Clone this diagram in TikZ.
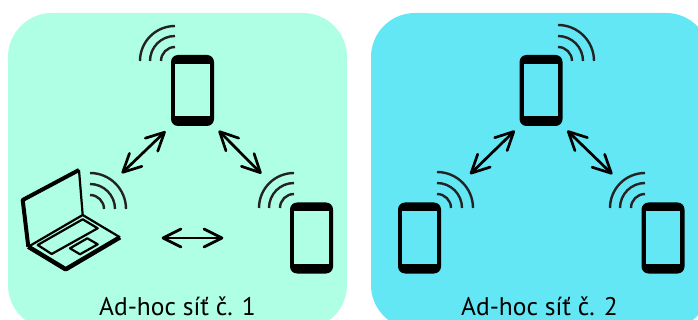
\documentclass[tikz,border=0pt]{standalone}
\usepackage{fontspec}
\setmainfont{PT Sans}
\usetikzlibrary{arrows.meta}
\definecolor{mint}{RGB}{175,255,229}
\definecolor{aqua}{RGB}{100,231,245}
\definecolor{wavegray}{RGB}{35,35,35}

\pgfdeclarearrow{
  name = OpenVee,
  setup code = {
    \pgfarrowssettipend{0pt}
    \pgfarrowssetbackend{-18pt}
    \pgfarrowssetlineend{-1pt}
    \pgfarrowssetvisualbackend{-1pt}
    \pgfarrowshullpoint{0pt}{0pt}
    \pgfarrowshullpoint{-18pt}{9pt}
    \pgfarrowshullpoint{-18pt}{-9pt}
  },
  drawing code = {
    \pgfsetdash{}{0pt}
    \pgfsetroundjoin
    \pgfsetroundcap
    \pgfpathmoveto{\pgfqpoint{-18pt}{9pt}}
    \pgfpathlineto{\pgfqpoint{0pt}{0pt}}
    \pgfpathlineto{\pgfqpoint{-18pt}{-9pt}}
    \pgfusepathqstroke
  }
}

\tikzset{
  panel/.style = {shape=rectangle, rounded corners=44pt, inner sep=0pt, outer sep=0pt},
  phone/.style = {shape=rectangle, rounded corners=7pt, fill=black, inner sep=0pt, outer sep=0pt,
    minimum width=43pt, minimum height=71pt},
  phonescreen/.style = {shape=rectangle, inner sep=0pt, outer sep=0pt,
    minimum width=34.5pt, minimum height=52pt},
  netlabel/.style = {anchor=base, inner sep=0pt, text depth=0pt, font=\fontsize{25.5}{30}\selectfont},
  link/.style = {line width=2.7pt, {OpenVee}-{OpenVee}},
  wavesleft/.pic = {
    \foreach \r in {14,25,35}
      \draw[wavegray, line width=2.4pt] (-\r,0) arc[start angle=180, end angle=90, radius=\r pt];
  },
  wavesright/.pic = {
    \foreach \r in {14,25,36}
      \draw[wavegray, line width=2.4pt] (\r,0) arc[start angle=0, end angle=90, radius=\r pt];
  }
}

\begin{document}
\begin{tikzpicture}[x=1pt, y=-1pt]
  \useasboundingbox (0,0) rectangle (698,320);
  \clip (0,0) rectangle (698,320);

  % the two networks
  \node[panel, fill=mint, minimum width=339pt, minimum height=316pt] (netone) at (177.5,171) {};
  \node[panel, fill=aqua, minimum width=339pt, minimum height=316pt] (nettwo) at (540.5,171) {};

  % phones
  \foreach \name/\x/\y in {topone/192.5/90.5, rightone/311.5/238}{
    \node[phone] (\name) at (\x,\y) {};
    \node[phonescreen, fill=mint] (\name screen) at (\x,\y-0.5) {};
  }
  \foreach \name/\x/\y in {lefttwo/419.5/238, toptwo/541/90.5, righttwo/663/238}{
    \node[phone] (\name) at (\x,\y) {};
    \node[phonescreen, fill=aqua] (\name screen) at (\x,\y-0.5) {};
  }

  % laptop
  \node[inner sep=0pt, outer sep=0pt, minimum width=99pt, minimum height=102pt] (laptop) at (71.5,220) {};
  \coordinate (laptopwave) at (122,173);
  \draw[line width=4pt, line join=round] (28.3,246.7) -- (22.7,200) -- (79,170);
  \draw[line width=2.2pt] (79,170) -- (82.7,215);
  \draw[line width=2.2pt, line join=round] (28.3,246.7) -- (82.7,215) -- (120,237.3);
  \draw[line width=4.5pt, line join=round] (28.3,246.7) -- (65.7,269.3) -- (120,237.3);
  \draw[line width=2.2pt, line join=round] (37.7,245) -- (51.7,254) -- (97.7,228.3) -- (82.7,219.3) -- cycle;
  \draw[line width=2.2pt, line join=round] (70,248.3) -- (80,254.3) -- (97.7,244.3) -- (87.3,238.3) -- cycle;

  % signal
  \pic at (175,61) {wavesleft};
  \pic at (294,208) {wavesleft};
  \pic at (645,208) {wavesleft};
  \pic at (90,209) {wavesright};
  \pic at (558,61) {wavesright};
  \pic at (437,208) {wavesright};

  % links
  \draw[link, shorten <=9pt, shorten >=1pt] (topone.south west) -- (laptopwave);
  \draw[link, shorten <=8pt, shorten >=42pt] (topone.south east) -- (rightone.north west);
  \draw[link, shorten <=42pt, shorten >=68pt] (laptop.east |- rightone.west) -- (rightone.west);
  \draw[link, shorten <=8pt, shorten >=42pt] (toptwo.south west) -- (lefttwo.north east);
  \draw[link, shorten <=8pt, shorten >=42pt] (toptwo.south east) -- (righttwo.north west);

  % labels
  \node[netlabel] (labelone) at (177.5,315) {Ad-hoc síť č. 1};
  \node[netlabel] (labeltwo) at (539.5,315) {Ad-hoc síť č. 2};
\end{tikzpicture}
\end{document}
